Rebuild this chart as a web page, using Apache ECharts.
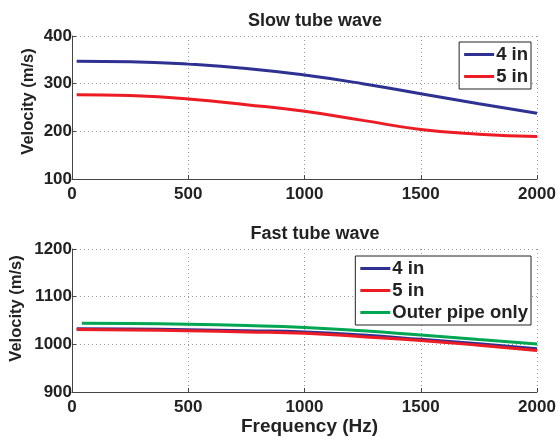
<!DOCTYPE html>
<html>
<head>
<meta charset="utf-8">
<script src="https://cdn.jsdelivr.net/npm/echarts@6/dist/echarts.min.js"></script>
<style>html,body{margin:0;padding:0;background:#fff}#c{width:560px;height:440px}</style>
</head>
<body>
<div id="c"></div>
<script>
// Data
const freqSlow = [20, 250, 500, 750, 1000, 1250, 1500, 1750, 2000];
const slow4in = [347, 346, 341, 332, 318, 300, 279, 258, 238];
const slow5in = [277, 275, 268, 256, 242, 223, 204, 194, 189];

const freqFast = [20, 250, 500, 750, 1000, 1250, 1500, 1750, 2000];
const fast4in = [1032.5, 1032, 1030.5, 1028.5, 1026, 1019.5, 1010.5, 1001, 991];
const fast5in = [1031, 1030, 1028.5, 1026, 1023, 1016, 1008, 998, 987];
const freqOuter = [42, 250, 500, 750, 1000, 1250, 1500, 1750, 2000];
const fastOuter = [1044, 1043.5, 1042, 1039.5, 1035.5, 1028.5, 1019.5, 1010, 1000.5];

const xTicks = [0, 500, 1000, 1500, 2000];
const slowTicks = [100, 200, 300, 400];
const fastTicks = [900, 1000, 1100, 1200];

const titles = ['Slow tube wave', 'Fast tube wave'];
const legendNames = ['4 in', '5 in', 'Outer pipe only'];
const xName = 'Frequency (Hz)';
const yName = 'Velocity (m/s)';

const C_BLUE = '#2e3192', C_RED = '#ed1c24', C_GREEN = '#00a651';
const FONT = 'Liberation Sans, Arial, Helvetica, sans-serif';
const TXT = '#222';

function zip(xs, ys) { return xs.map((x, i) => [x, ys[i]]); }
const plain = v => String(v);

function xAxis(idx, withName) {
  return {
    type: 'value', gridIndex: idx, min: xTicks[0], max: xTicks[xTicks.length - 1], interval: 500,
    name: withName ? xName : '', nameLocation: 'middle', nameGap: 25, nameMoveOverlap: false,
    nameTextStyle: { fontFamily: FONT, fontWeight: 'bold', fontSize: 19, color: TXT, padding: [0, 0, 0, 10] },
    axisLine: { lineStyle: { color: '#444', width: 1 } },
    axisTick: { inside: true, length: 4, lineStyle: { color: '#444' } },
    axisLabel: { fontFamily: FONT, fontWeight: 'bold', fontSize: 17, color: TXT, margin: 7, formatter: plain },
    splitLine: { show: true, lineStyle: { color: '#999', type: [1, 3], width: 1 } }
  };
}
function yAxis(idx, ticks, gap, shift) {
  return {
    type: 'value', gridIndex: idx, min: ticks[0], max: ticks[ticks.length - 1], interval: 100,
    name: yName, nameLocation: 'middle', nameGap: gap, nameRotate: 90, nameMoveOverlap: false,
    nameTextStyle: { fontFamily: FONT, fontWeight: 'bold', fontSize: 16.5, color: TXT, padding: [0, 0, 0, shift] },
    axisLine: { show: true, lineStyle: { color: '#444', width: 1 } },
    axisTick: { show: true, inside: true, length: 4, lineStyle: { color: '#444' } },
    axisLabel: { fontFamily: FONT, fontWeight: 'bold', fontSize: 17, color: TXT, margin: 0, formatter: plain },
    splitLine: { show: true, lineStyle: { color: '#999', type: [1, 3], width: 1 } }
  };
}
function line(name, data, color, xi, yi) {
  return {
    type: 'line', name: name, data: data, xAxisIndex: xi, yAxisIndex: yi,
    smooth: true, symbol: 'none', lineStyle: { color: color, width: 3 }, itemStyle: { color: color },
    animation: false
  };
}
const legendCommon = {
  orient: 'vertical', icon: 'rect', itemWidth: 30, itemHeight: 3, itemGap: 3,
  backgroundColor: '#fff', borderColor: '#222', borderWidth: 1, padding: [3, 3, 3, 5],
  textStyle: { fontFamily: FONT, fontWeight: 'bold', fontSize: 18.5, color: TXT, padding: [0, 0, 0, -3] }
};

const chart = echarts.init(document.getElementById('c'), null, { renderer: 'canvas' });
chart.setOption({
  backgroundColor: '#fff',
  animation: false,
  title: [
    { text: titles[0], left: 310, top: 7, textAlign: 'center', textStyle: { fontFamily: FONT, fontWeight: 'bold', fontSize: 18, color: TXT } },
    { text: titles[1], left: 310, top: 220, textAlign: 'center', textStyle: { fontFamily: FONT, fontWeight: 'bold', fontSize: 18, color: TXT } }
  ],
  grid: [
    { left: 72, top: 36, width: 465, height: 143, outerBoundsMode: 'none', containLabel: false },
    { left: 72, top: 249, width: 465, height: 143, outerBoundsMode: 'none', containLabel: false }
  ],
  xAxis: [xAxis(0, false), xAxis(1, true)],
  yAxis: [yAxis(0, slowTicks, 35, 12), yAxis(1, fastTicks, 47, 24)],
  legend: [
    Object.assign({}, legendCommon, { data: [legendNames[0], legendNames[1]], right: 29, top: 42 }),
    Object.assign({}, legendCommon, { data: legendNames, right: 29, top: 256 })
  ],
  series: [
    line(legendNames[0], zip(freqSlow, slow4in), C_BLUE, 0, 0),
    line(legendNames[1], zip(freqSlow, slow5in), C_RED, 0, 0),
    line(legendNames[0], zip(freqFast, fast4in), C_BLUE, 1, 1),
    line(legendNames[1], zip(freqFast, fast5in), C_RED, 1, 1),
    line(legendNames[2], zip(freqOuter, fastOuter), C_GREEN, 1, 1)
  ]
});
</script>
</body>
</html>
